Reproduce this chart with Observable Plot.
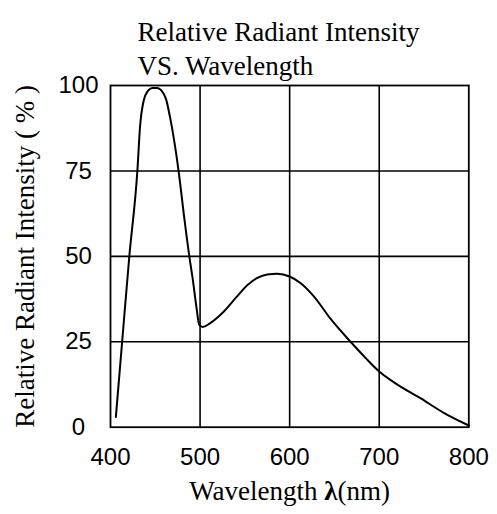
<!DOCTYPE html>
<html>
<head>
<meta charset="utf-8">
<script src="https://cdn.jsdelivr.net/npm/d3@7"></script>
<script src="https://cdn.jsdelivr.net/npm/@observablehq/plot@0.6"></script>
<style>
  html, body { margin: 0; padding: 0; background: #fff; }
</style>
</head>
<body>
<div id="chart"></div>
<script>
const wavelength = [406, 413, 421, 430, 433, 437, 442, 447, 452, 457, 462, 467, 471, 476, 482, 488, 492, 496, 499, 503, 511, 526, 541, 553, 564, 575, 586, 600, 612, 627, 646, 668, 685, 700, 719, 746, 772, 800];
const intensity  = [3, 25, 50, 75, 88, 95.5, 98.5, 99.3, 99.3, 98.5, 96, 90, 84, 75, 62, 50, 43, 35, 30, 29.3, 30.4, 33.7, 38.2, 41.6, 43.7, 44.7, 44.9, 44.1, 42.2, 38.3, 31.6, 25, 20.2, 16.3, 12.7, 8.5, 4.2, 0.5];
const xTicks = [400, 500, 600, 700, 800];
const yTicks = [0, 25, 50, 75, 100];
const titleText = "Relative Radiant Intensity\nVS. Wavelength";
const yLabel = "Relative Radiant Intensity ( % )";
const xLabel = "Wavelength λ(nm)";

const data = wavelength.map((w, i) => ({w, v: intensity[i]}));
const serif = "'Liberation Serif', 'Times New Roman', serif";
const sans = "'Liberation Sans', Arial, sans-serif";

const chart = Plot.plot({
  width: 497,
  height: 514,
  marginLeft: 110,
  marginRight: 28.7,
  marginTop: 85,
  marginBottom: 87.3,
  style: {background: "#fff", color: "#000"},
  x: {domain: [400, 800], ticks: xTicks},
  y: {domain: [0, 100]},
  marks: [
    Plot.gridX([500, 600, 700], {stroke: "#000", strokeOpacity: 1, strokeWidth: 1.6}),
    Plot.gridY([25, 50, 75], {stroke: "#000", strokeOpacity: 1, strokeWidth: 1.6}),
    Plot.frame({stroke: "#000", strokeWidth: 1.8}),
    Plot.axisX({ticks: xTicks, tickSize: 0, tickPadding: 21, label: null, fontSize: 24, fontFamily: sans}),
    Plot.axisY({ticks: yTicks, tickSize: 0, tickPadding: 32, textAnchor: "middle", label: null, fontSize: 24, fontFamily: sans}),
    Plot.line(data, {x: "w", y: "v", stroke: "#000", strokeWidth: 2, curve: "monotone-x"}),
    Plot.text([titleText], {frameAnchor: "top-left", textAnchor: "start", lineAnchor: "top", dx: 27, dy: -68.5, lineHeight: 1.26, fontSize: 27, fontFamily: serif, fill: "#000"}),
    Plot.text([yLabel], {frameAnchor: "left", textAnchor: "middle", lineAnchor: "bottom", rotate: -90, dx: -77, fontSize: 27, fontFamily: serif, fill: "#000"}),
    Plot.text([xLabel], {frameAnchor: "bottom", textAnchor: "middle", lineAnchor: "bottom", dy: 73, fontSize: 27, fontFamily: serif, fill: "#000", className: "xlab"})
  ]
});

// make the lambda bold
d3.select(chart).selectAll("g.xlab text").each(function() {
  const t = d3.select(this);
  const parts = xLabel.split("λ");
  t.text(null);
  t.append("tspan").text(parts[0]);
  t.append("tspan").attr("font-weight", "bold").text("λ");
  t.append("tspan").text(parts[1]);
});

document.getElementById("chart").appendChild(chart);
</script>
</body>
</html>
